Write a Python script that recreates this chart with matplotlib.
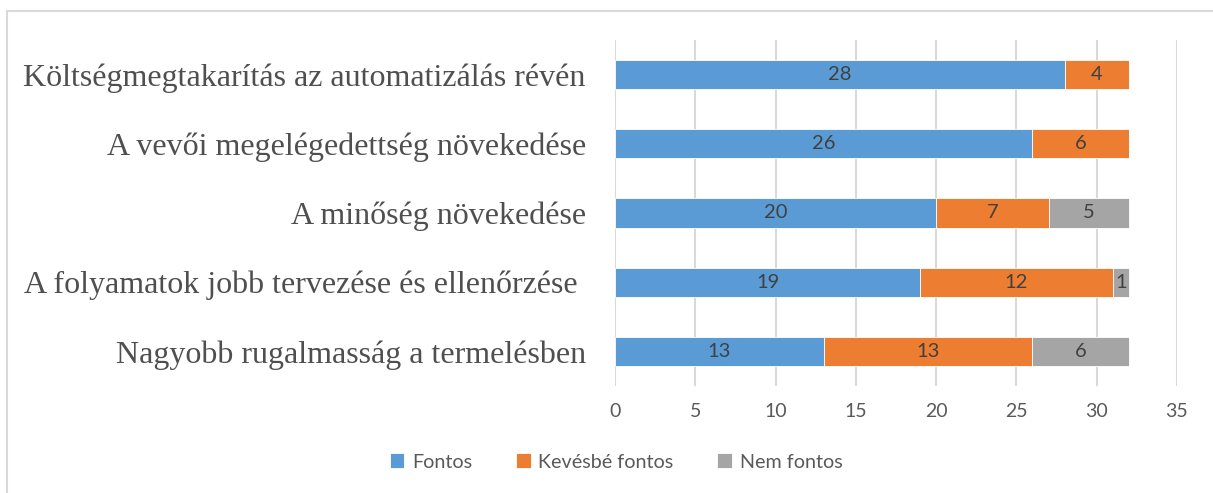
import matplotlib
matplotlib.use('Agg')
import matplotlib.pyplot as plt
from matplotlib.lines import Line2D
import numpy as np

# Data (top to bottom as shown)
categories = ['Költségmegtakarítás az automatizálás révén',
              'A vevői megelégedettség növekedése',
              'A minőség növekedése',
              'A folyamatok jobb tervezése és ellenőrzése ',
              'Nagyobb rugalmasság a termelésben']
fontos = [28, 26, 20, 19, 13]
kevesbe = [4, 6, 7, 12, 13]
nem = [0, 0, 5, 1, 6]
series_names = ['Fontos', 'Kevésbé fontos', 'Nem fontos']
colors = ['#5B9BD5', '#ED7D31', '#A5A5A5']

fig = plt.figure(figsize=(12.13, 4.93), dpi=100)
ax = fig.add_axes([615/1213, 1 - 386/493, (1177 - 615)/1213, (386 - 40)/493])

y = np.arange(len(categories))
left = np.zeros(len(categories))
for vals, name, c in zip([fontos, kevesbe, nem], series_names, colors):
    vals = np.array(vals)
    bars = ax.barh(y, vals, left=left, height=0.42, color=c, label=name,
                   edgecolor='white', linewidth=0.6, zorder=3)
    labels = [str(v) if v > 0 else '' for v in vals]
    ax.bar_label(bars, labels=labels, label_type='center', color='#404040',
                 fontsize=14.5, family='Lato')
    left += vals

ax.set_ylim(len(categories) - 0.5, -0.5)
ax.set_xlim(0, 35)
ax.set_xticks(np.arange(0, 36, 5))
ax.set_yticks(y)
ax.set_yticklabels(categories, family='Liberation Serif', fontsize=23, color='#4f4f4f')
ax.tick_params(axis='x', labelsize=14, colors='#595959', length=0, pad=12)
ax.tick_params(axis='y', length=0, pad=21)
for lab in ax.get_xticklabels():
    lab.set_family('Lato')
ax.grid(axis='x', color='#D9D9D9', linewidth=1.5, zorder=0)
for s in ax.spines.values():
    s.set_visible(False)

leg = fig.legend(loc='center', bbox_to_anchor=(616/1213, 1 - 462/493), ncol=3,
                 frameon=False, handlelength=0.75, handleheight=0.75,
                 handletextpad=0.4, columnspacing=2.2, prop={'family': 'Lato', 'size': 14.2})
for t in leg.get_texts():
    t.set_color('#595959')

# chart frame
fig.add_artist(Line2D([7/1213, 1], [1 - 11/493, 1 - 11/493], color='#D9D9D9', lw=1.5))
fig.add_artist(Line2D([7/1213, 7/1213], [0, 1 - 11/493], color='#D9D9D9', lw=1.5))

fig.savefig('out.png', dpi=100)
